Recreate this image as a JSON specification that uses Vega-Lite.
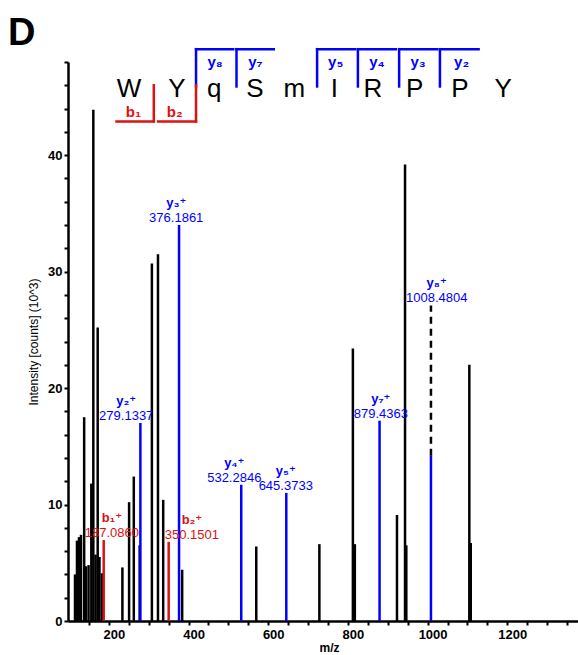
{
  "$schema": "https://vega.github.io/schema/vega-lite/v6.json",
  "width": 510,
  "height": 559,
  "autosize": {"type": "none"},
  "padding": {"left": 68, "top": 62, "right": 0, "bottom": 34},
  "background": "white",
  "title": {"text": "D", "anchor": "start", "frame": "group", "font": "Liberation Sans", "fontSize": 38, "fontWeight": "bold", "color": "black", "dx": -60, "dy": 20, "offset": 14},
  "config": {"view": {"stroke": null}, "font": "Liberation Sans"},
  "resolve": {"axis": {"x": "independent", "y": "independent"}},
  "datasets": {
    "peaks": [
      {"mz": 115, "intensity": 4.0, "type": "other"},
      {"mz": 120, "intensity": 6.9, "type": "other"},
      {"mz": 125, "intensity": 7.2, "type": "other"},
      {"mz": 130, "intensity": 7.4, "type": "other"},
      {"mz": 138, "intensity": 17.5, "type": "other"},
      {"mz": 142, "intensity": 4.7, "type": "other"},
      {"mz": 149, "intensity": 4.8, "type": "other"},
      {"mz": 156, "intensity": 11.8, "type": "other"},
      {"mz": 161, "intensity": 43.9, "type": "other"},
      {"mz": 166.6, "intensity": 5.7, "type": "other"},
      {"mz": 172, "intensity": 25.2, "type": "other"},
      {"mz": 176.4, "intensity": 5.5, "type": "other"},
      {"mz": 182.6, "intensity": 4.1, "type": "other"},
      {"mz": 234, "intensity": 4.6, "type": "other"},
      {"mz": 250.8, "intensity": 10.2, "type": "other"},
      {"mz": 262.6, "intensity": 12.4, "type": "other"},
      {"mz": 277.3, "intensity": 6.5, "type": "other"},
      {"mz": 308, "intensity": 30.7, "type": "other"},
      {"mz": 323.3, "intensity": 31.5, "type": "other"},
      {"mz": 336.4, "intensity": 10.4, "type": "other"},
      {"mz": 384, "intensity": 4.4, "type": "other"},
      {"mz": 570, "intensity": 6.4, "type": "other"},
      {"mz": 728.4, "intensity": 6.6, "type": "other"},
      {"mz": 812.5, "intensity": 23.4, "type": "other"},
      {"mz": 817.4, "intensity": 6.6, "type": "other"},
      {"mz": 923.2, "intensity": 9.1, "type": "other"},
      {"mz": 943.4, "intensity": 39.2, "type": "other"},
      {"mz": 946.6, "intensity": 6.5, "type": "other"},
      {"mz": 1104.8, "intensity": 22.0, "type": "other"},
      {"mz": 1108.3, "intensity": 6.7, "type": "other"},
      {"mz": 187.086, "intensity": 6.95, "type": "b"},
      {"mz": 350.1501, "intensity": 6.8, "type": "b"},
      {"mz": 279.1337, "intensity": 17.0, "type": "y"},
      {"mz": 376.1861, "intensity": 34.0, "type": "y"},
      {"mz": 532.2846, "intensity": 11.7, "type": "y"},
      {"mz": 645.3733, "intensity": 11.0, "type": "y"},
      {"mz": 879.4363, "intensity": 17.2, "type": "y"},
      {"mz": 1008.4804, "intensity": 14.2, "type": "y"}
    ],
    "dashed": [
      {"mz": 1008.4804, "from": 14.2, "to": 27.1}
    ],
    "labels": [
      {"ion": "b₁⁺", "num": "187.0860", "labelMz": 207.7, "labelY": 6.95, "type": "b"},
      {"ion": "b₂⁺", "num": "350.1501", "labelMz": 408.5, "labelY": 6.8, "type": "b"},
      {"ion": "y₂⁺", "num": "279.1337", "labelMz": 243.6, "labelY": 17.0, "type": "y"},
      {"ion": "y₃⁺", "num": "376.1861", "labelMz": 369.1, "labelY": 34.0, "type": "y"},
      {"ion": "y₄⁺", "num": "532.2846", "labelMz": 514.8, "labelY": 11.7, "type": "y"},
      {"ion": "y₅⁺", "num": "645.3733", "labelMz": 644.0, "labelY": 11.0, "type": "y"},
      {"ion": "y₇⁺", "num": "879.4363", "labelMz": 882.6, "labelY": 17.2, "type": "y"},
      {"ion": "y₈⁺", "num": "1008.4804", "labelMz": 1022.9, "labelY": 27.1, "type": "y"}
    ],
    "sequence": [
      {"residue": "W", "mz": 250.3, "level": 45.0},
      {"residue": "Y", "mz": 370.8, "level": 45.0},
      {"residue": "q", "mz": 464.3, "level": 45.0},
      {"residue": "S", "mz": 566.7, "level": 45.0},
      {"residue": "m", "mz": 665.6, "level": 45.0},
      {"residue": "I", "mz": 766.3, "level": 45.0},
      {"residue": "R", "mz": 863.0, "level": 45.0},
      {"residue": "P", "mz": 967.5, "level": 45.0},
      {"residue": "P", "mz": 1081.0, "level": 45.0},
      {"residue": "Y", "mz": 1189.7, "level": 45.0}
    ],
    "brackets": [
      {"type": "y", "x1": 418.8, "x2": 512.3, "y1": 49.1, "y2": 49.1},
      {"type": "y", "x1": 418.8, "x2": 418.8, "y1": 49.1, "y2": 45.9},
      {"type": "y", "x1": 520.4, "x2": 613.9, "y1": 49.1, "y2": 49.1},
      {"type": "y", "x1": 520.4, "x2": 520.4, "y1": 49.1, "y2": 45.9},
      {"type": "y", "x1": 722.7, "x2": 817.9, "y1": 49.1, "y2": 49.1},
      {"type": "y", "x1": 722.7, "x2": 722.7, "y1": 49.1, "y2": 45.9},
      {"type": "y", "x1": 825.1, "x2": 920.3, "y1": 49.1, "y2": 49.1},
      {"type": "y", "x1": 825.1, "x2": 825.1, "y1": 49.1, "y2": 45.9},
      {"type": "y", "x1": 928.6, "x2": 1023.9, "y1": 49.1, "y2": 49.1},
      {"type": "y", "x1": 928.6, "x2": 928.6, "y1": 49.1, "y2": 45.9},
      {"type": "y", "x1": 1031.0, "x2": 1128.0, "y1": 49.1, "y2": 49.1},
      {"type": "y", "x1": 1031.0, "x2": 1031.0, "y1": 49.1, "y2": 45.9},
      {"type": "b", "x1": 219.3, "x2": 312.8, "y1": 42.9, "y2": 42.9},
      {"type": "b", "x1": 312.8, "x2": 312.8, "y1": 42.9, "y2": 46.0},
      {"type": "b", "x1": 323.6, "x2": 418.8, "y1": 42.9, "y2": 42.9},
      {"type": "b", "x1": 418.8, "x2": 418.8, "y1": 42.9, "y2": 46.0}
    ],
    "bracketLabels": [
      {"text": "y₈", "mz": 466.8, "level": 48.0, "type": "y"},
      {"text": "y₇", "mz": 567.7, "level": 48.0, "type": "y"},
      {"text": "y₅", "mz": 769.4, "level": 48.0, "type": "y"},
      {"text": "y₄", "mz": 872.8, "level": 48.0, "type": "y"},
      {"text": "y₃", "mz": 976.1, "level": 48.0, "type": "y"},
      {"text": "y₂", "mz": 1085.4, "level": 48.0, "type": "y"},
      {"text": "b₁", "mz": 261.8, "level": 43.7, "type": "b"},
      {"text": "b₂", "mz": 365.4, "level": 43.7, "type": "b"}
    ]
  },
  "layer": [
    {
      "data": {"name": "peaks"},
      "mark": {"type": "bar", "size": 2.5},
      "encoding": {
        "x": {
          "field": "mz", "type": "quantitative",
          "scale": {"domain": [110, 1365], "nice": false, "zero": false},
          "axis": {
            "title": "m/z", "orient": "bottom", "values": [200, 400, 600, 800, 1000, 1200], "format": "d",
            "grid": false, "domainColor": "black", "domainWidth": 2.5, "tickColor": "black", "tickWidth": 2, "tickSize": 4,
            "labelFont": "Liberation Sans", "labelFontSize": 13, "labelFontWeight": "bold", "labelColor": "black", "labelPadding": 3, "labelOffset": 5,
            "titleFont": "Liberation Sans", "titleFontSize": 12, "titleFontWeight": "bold", "titleColor": "black", "titlePadding": 1, "titleX": 261
          }
        },
        "y": {
          "field": "intensity", "type": "quantitative",
          "scale": {"domain": [0, 48], "nice": false, "zero": true},
          "axis": {
            "title": "Intensity [counts] (10^3)", "orient": "left", "values": [0, 10, 20, 30, 40], "format": "d",
            "grid": false, "domainColor": "black", "domainWidth": 2.5, "tickColor": "black", "tickWidth": 2, "tickSize": 4,
            "labelFont": "Liberation Sans", "labelFontSize": 13, "labelFontWeight": "bold", "labelColor": "black", "labelPadding": 2,
            "titleFont": "Liberation Sans", "titleFontSize": 12, "titleFontWeight": "normal", "titleColor": "black", "titlePadding": 7
          }
        },
        "color": {"field": "type", "type": "nominal", "scale": {"domain": ["other", "y", "b"], "range": ["#000000", "#0000ff", "#dd1111"]}, "legend": null}
      }
    },
    {
      "data": {"name": "dashed"},
      "mark": {"type": "rule", "strokeWidth": 2.5, "strokeDash": [7, 5], "color": "black"},
      "encoding": {
        "x": {"field": "mz", "type": "quantitative",
          "axis": {"orient": "bottom", "title": null, "labels": false, "domain": false, "grid": false, "tickColor": "black", "tickWidth": 2, "tickSize": 4,
            "values": [150,250,300,350,450,500,550,650,700,750,850,900,950,1050,1100,1150,1250,1300,1350]}},
        "y": {"field": "from", "type": "quantitative",
          "axis": {"orient": "left", "title": null, "labels": false, "domain": false, "grid": false, "tickColor": "black", "tickWidth": 2, "tickSize": 4,
            "values": [2,4,6,8,12,14,16,18,22,24,26,28,32,34,36,38,42,44,46,48]}},
        "y2": {"field": "to"}
      }
    },
    {
      "data": {"name": "labels"},
      "mark": {"type": "text", "font": "Liberation Sans, DejaVu Sans", "fontSize": 13, "fontWeight": "bold", "baseline": "alphabetic", "align": "center", "dy": -18},
      "encoding": {
        "x": {"field": "labelMz", "type": "quantitative", "axis": null},
        "y": {"field": "labelY", "type": "quantitative", "axis": null},
        "text": {"field": "ion"},
        "color": {"field": "type", "type": "nominal", "scale": {"domain": ["other", "y", "b"], "range": ["#000000", "#0000ff", "#dd1111"]}, "legend": null}
      }
    },
    {
      "data": {"name": "labels"},
      "mark": {"type": "text", "font": "Liberation Sans", "fontSize": 13, "fontWeight": "normal", "baseline": "alphabetic", "align": "center", "dy": -3},
      "encoding": {
        "x": {"field": "labelMz", "type": "quantitative", "axis": null},
        "y": {"field": "labelY", "type": "quantitative", "axis": null},
        "text": {"field": "num"},
        "color": {"field": "type", "type": "nominal", "scale": {"domain": ["other", "y", "b"], "range": ["#000000", "#0000ff", "#dd1111"]}, "legend": null}
      }
    },
    {
      "data": {"name": "sequence"},
      "mark": {"type": "text", "font": "Liberation Sans", "fontSize": 26, "baseline": "alphabetic", "align": "center", "color": "black"},
      "encoding": {
        "x": {"field": "mz", "type": "quantitative", "axis": null},
        "y": {"field": "level", "type": "quantitative", "axis": null},
        "text": {"field": "residue"}
      }
    },
    {
      "data": {"name": "brackets"},
      "mark": {"type": "rule", "strokeWidth": 2.5, "strokeCap": "square"},
      "encoding": {
        "x": {"field": "x1", "type": "quantitative", "axis": null},
        "x2": {"field": "x2"},
        "y": {"field": "y1", "type": "quantitative", "axis": null},
        "y2": {"field": "y2"},
        "color": {"field": "type", "type": "nominal", "scale": {"domain": ["other", "y", "b"], "range": ["#000000", "#0000ff", "#dd1111"]}, "legend": null}
      }
    },
    {
      "data": {"name": "bracketLabels"},
      "mark": {"type": "text", "font": "Liberation Sans, DejaVu Sans", "fontSize": 15, "fontWeight": "bold", "baseline": "middle", "align": "center"},
      "encoding": {
        "x": {"field": "mz", "type": "quantitative", "axis": null},
        "y": {"field": "level", "type": "quantitative", "axis": null},
        "text": {"field": "text"},
        "color": {"field": "type", "type": "nominal", "scale": {"domain": ["other", "y", "b"], "range": ["#000000", "#0000ff", "#dd1111"]}, "legend": null}
      }
    }
  ]
}
